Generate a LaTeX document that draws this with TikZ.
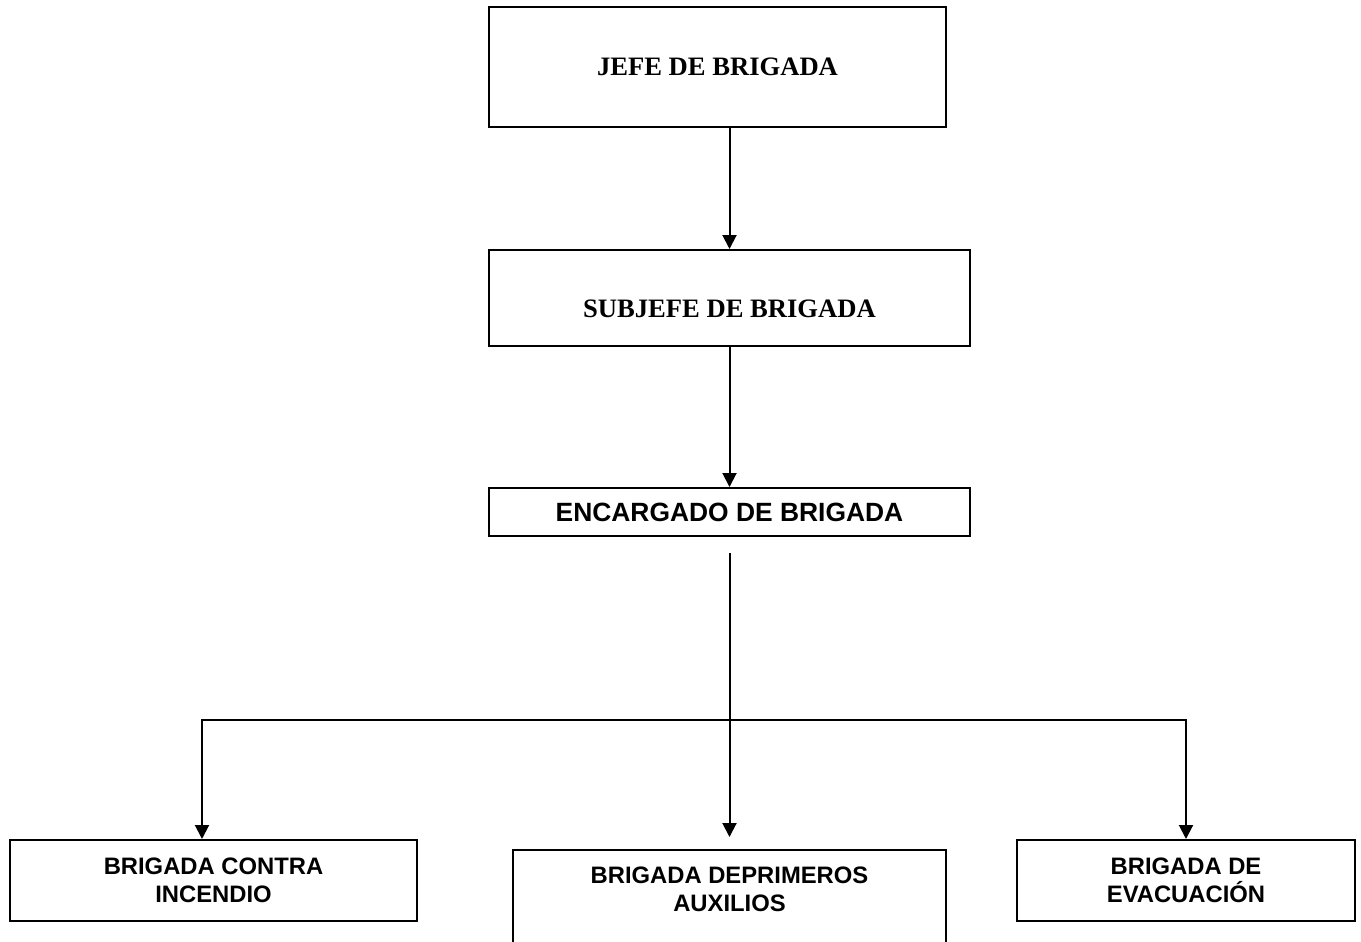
\documentclass[tikz,border=0pt]{standalone}
\usepackage{fontspec}
\setmainfont{Liberation Serif}
\newfontfamily\arialfont{Liberation Sans}
\usetikzlibrary{arrows.meta}

\begin{document}
\begin{tikzpicture}[x=0.5pt, y=-0.5pt, line width=1pt,
    topbox/.style={draw, font=\fontsize{13.3}{16}\selectfont\bfseries, inner sep=0pt},
    lowbox/.style={draw, font=\arialfont\fontsize{11.9}{14}\selectfont\bfseries, align=center, inner sep=0pt},
    link/.style={-{Triangle[width=7pt,length=7pt]}},
    bus/.style={{Triangle[width=7pt,length=7pt]}-{Triangle[width=7pt,length=7pt]}}]
    \useasboundingbox (0,0) rectangle (1361,942);

    \node[topbox, minimum width=228.5pt, minimum height=60pt] (jefe) at (717.5,67) {JEFE DE BRIGADA};
    \node[topbox, minimum width=240.5pt, minimum height=48pt, text height=20pt, text depth=0.2pt] (sub) at (729.5,298) {SUBJEFE DE BRIGADA};
    \node[lowbox, font=\arialfont\fontsize{13.2}{16}\selectfont\bfseries, minimum width=240.5pt, minimum height=24pt] (enc) at (729.5,512) {ENCARGADO DE BRIGADA};

    \node[lowbox, minimum width=203.5pt, minimum height=40.5pt] (left) at (213.5,880.5) {BRIGADA CONTRA\\INCENDIO};
    \node[lowbox, minimum width=216.5pt, minimum height=55pt] (mid) at (729.5,905) {};
    \node[lowbox, draw=none, anchor=north] (midtext) at ([yshift=-8.5pt]mid.north) {BRIGADA DEPRIMEROS\\AUXILIOS};
    \node[lowbox, minimum width=169pt, minimum height=40.5pt] (right) at (1186,880.5) {BRIGADA DE\\EVACUACIÓN};

    \coordinate (drop) at (729.5,553);
    \coordinate (busl) at (202,720);
    \coordinate (busr) at (1186,720);

    \draw[link] (sub.north |- jefe.south) -- (sub.north);
    \draw[link] (sub.south) -- (enc.north);
    \draw[link, shorten >=6pt] (drop) -- (mid.north);
    \draw[bus] (busl |- left.north) -- (busl) -- (busr) -- (right.north);
\end{tikzpicture}
\end{document}
